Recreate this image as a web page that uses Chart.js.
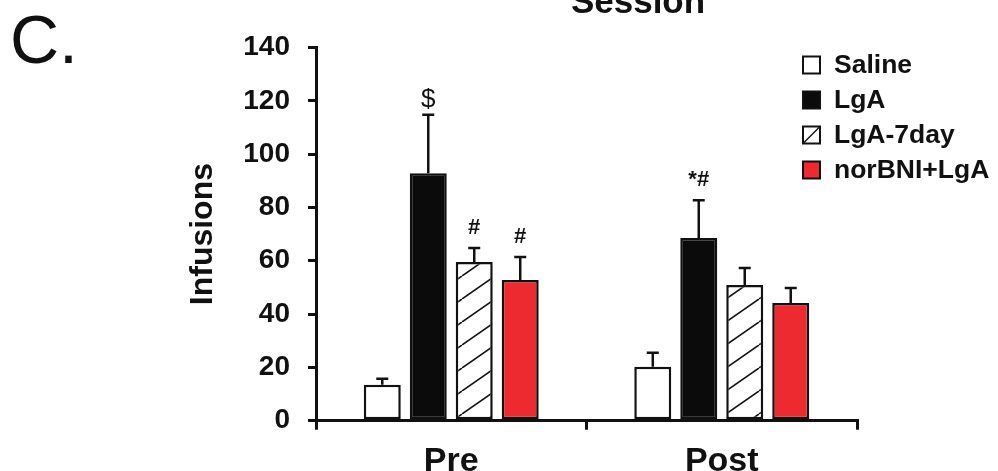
<!DOCTYPE html>
<html>
<head>
<meta charset="utf-8">
<script src="https://cdn.jsdelivr.net/npm/chart.js@4.4.1/dist/chart.umd.min.js"></script>
<style>
html, body { margin: 0; padding: 0; background: #fff; }
canvas { display: block; }
</style>
</head>
<body>
<canvas id="c" width="998" height="471"></canvas>
<script>
// Session categories and treatment groups
const categories = ['Pre', 'Post'];
const groups = ['Saline', 'LgA', 'LgA-7day', 'norBNI+LgA'];

// Mean infusions and SEM per group (Pre, Post)
const salineMean = [13.5, 20.2];
const salineSem = [2.2, 5.3];
const lgaMean = [92.8, 68.5];
const lgaSem = [22.0, 14.2];
const lga7Mean = [59.5, 50.9];
const lga7Sem = [5.3, 6.4];
const norbniMean = [52.8, 44.2];
const norbniSem = [8.6, 5.6];

// Significance marks above each bar (Pre, Post)
const salineMarks = ['', ''];
const lgaMarks = ['$', '*#'];
const lga7Marks = ['#', ''];
const norbniMarks = ['#', ''];

// Y-axis tick values
const yTicks = [0, 20, 40, 60, 80, 100, 120, 140];

const FONT = '"Liberation Sans", Arial, Helvetica, sans-serif';
const canvas = document.getElementById('c');
const ctx = canvas.getContext('2d');

// Diagonal hatch fill for the LgA-7day bars
function makeHatch() {
  const W = 33, H = 23;
  const t = document.createElement('canvas');
  t.width = W; t.height = H;
  const g = t.getContext('2d');
  g.fillStyle = '#ffffff';
  g.fillRect(0, 0, W, H);
  g.strokeStyle = '#111';
  g.lineWidth = 1.6;
  for (const dx of [-W, 0, W]) {
    g.beginPath();
    g.moveTo(dx, H);
    g.lineTo(dx + W, 0);
    g.stroke();
  }
  return ctx.createPattern(t, 'repeat');
}
const hatch = makeHatch();

const RED = '#ec2a2f';

// Error bars and significance marks
const errorBars = {
  id: 'errorBars',
  afterDatasetsDraw(chart) {
    const c = chart.ctx;
    const y = chart.scales.y;
    c.save();
    c.strokeStyle = '#111';
    c.lineWidth = 2.5;
    chart.data.datasets.forEach((ds, i) => {
      const meta = chart.getDatasetMeta(i);
      meta.data.forEach((bar, j) => {
        const top = y.getPixelForValue(ds.data[j] + ds.sem[j]);
        c.beginPath();
        c.moveTo(bar.x, bar.y);
        c.lineTo(bar.x, top);
        c.moveTo(bar.x - 6, top);
        c.lineTo(bar.x + 6, top);
        c.stroke();
        const mark = ds.marks[j];
        if (mark) {
          c.fillStyle = '#111';
          c.textAlign = 'center';
          c.textBaseline = 'alphabetic';
          c.font = mark === '$' ? '26px ' + FONT : 'bold 22px ' + FONT;
          c.fillText(mark, bar.x, top - (mark === '$' ? 8 : 14));
        }
      });
    });
    c.restore();
  }
};

// Legend, session title and panel letter
const decorations = {
  id: 'decorations',
  afterDraw(chart) {
    const c = chart.ctx;
    c.save();
    c.fillStyle = '#111';
    c.textAlign = 'center';
    c.textBaseline = 'alphabetic';
    c.font = 'bold 35px ' + FONT;
    c.fillText('Session', 638, 13);
    c.textAlign = 'left';
    c.font = '68px ' + FONT;
    c.fillText('C.', 10, 63);

    const bx = 803, size = 17, y0 = 65, step = 35;
    chart.data.datasets.forEach((ds, i) => {
      const cy = y0 + i * step;
      const top = cy - size / 2;
      c.fillStyle = ds.legendFill;
      c.fillRect(bx, top, size, size);
      c.strokeStyle = '#111';
      c.lineWidth = 2;
      c.strokeRect(bx, top, size, size);
      if (ds.legendHatch) {
        c.beginPath();
        c.lineWidth = 1.5;
        c.moveTo(bx, top + size);
        c.lineTo(bx + size, top);
        c.stroke();
      }
      c.fillStyle = '#111';
      c.textAlign = 'left';
      c.textBaseline = 'middle';
      c.font = 'bold 26.5px ' + FONT;
      c.fillText(ds.label, 834, cy + 1);
    });
    c.restore();
  }
};

const common = { borderColor: '#111', borderWidth: 2.5, borderSkipped: false,
  barPercentage: 0.804, categoryPercentage: 0.68 };

new Chart(ctx, {
  type: 'bar',
  data: {
    labels: categories,
    datasets: [
      Object.assign({ label: groups[0], data: salineMean, sem: salineSem, marks: salineMarks,
        backgroundColor: '#ffffff', legendFill: '#ffffff' }, common),
      Object.assign({ label: groups[1], data: lgaMean, sem: lgaSem, marks: lgaMarks,
        backgroundColor: '#0b0b0b', legendFill: '#0b0b0b' }, common),
      Object.assign({ label: groups[2], data: lga7Mean, sem: lga7Sem, marks: lga7Marks,
        backgroundColor: hatch, legendFill: '#ffffff', legendHatch: true }, common),
      Object.assign({ label: groups[3], data: norbniMean, sem: norbniSem, marks: norbniMarks,
        backgroundColor: RED, legendFill: RED }, common)
    ]
  },
  options: {
    responsive: false,
    animation: false,
    devicePixelRatio: 1,
    layout: { padding: { left: 180, right: 141, top: 47.5, bottom: 0 } },
    plugins: { legend: { display: false }, tooltip: { enabled: false }, title: { display: false } },
    scales: {
      x: {
        afterFit(s) { s.height = 50.3; },
        grid: { display: true, drawOnChartArea: false, drawTicks: true, tickLength: 9,
          color: '#111', lineWidth: 3, offset: true },
        border: { display: true, color: '#111', width: 3 },
        ticks: { color: '#111', padding: 12, font: { family: FONT, size: 34, weight: 'bold' } }
      },
      y: {
        min: 0, max: 140,
        afterFit(s) { s.width = 136; },
        afterBuildTicks(s) { s.ticks = yTicks.map(v => ({ value: v })); },
        grid: { display: true, drawOnChartArea: false, drawTicks: true, tickLength: 8,
          color: '#111', lineWidth: 3 },
        border: { display: true, color: '#111', width: 3 },
        ticks: { color: '#111', padding: 18, font: { family: FONT, size: 28, weight: 'bold' } },
        title: { display: true, text: 'Infusions', color: '#111', padding: { top: 4, bottom: 0 },
          font: { family: FONT, size: 32, weight: 'bold' } }
      }
    }
  },
  plugins: [errorBars, decorations]
});
</script>
</body>
</html>
